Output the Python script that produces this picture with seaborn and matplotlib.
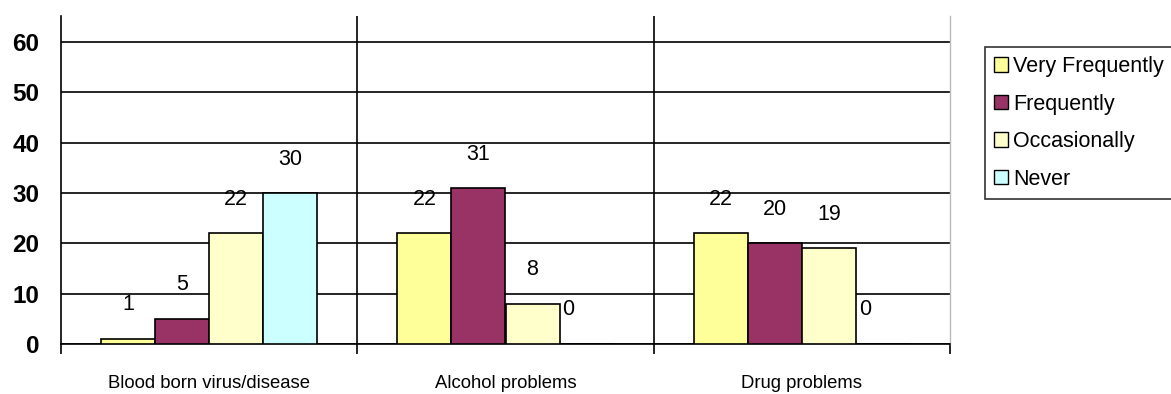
import matplotlib
matplotlib.use("Agg")
import matplotlib.pyplot as plt
import seaborn as sns
import pandas as pd
from matplotlib.ticker import FixedLocator

categories = ["Blood born virus/disease", "Alcohol problems", "Drug problems"]
series = ["Very Frequently", "Frequently", "Occasionally", "Never"]
very_frequently = [1, 22, 22]
frequently = [5, 31, 20]
occasionally = [22, 8, 19]
never = [30, 0, 0]
y_ticks = [0, 10, 20, 30, 40, 50, 60]

colors = ["#FFFF99", "#993366", "#FFFFCC", "#CCFFFF"]

rows = []
for name, vals in zip(series, [very_frequently, frequently, occasionally, never]):
    for cat, v in zip(categories, vals):
        rows.append({"category": cat, "series": name, "value": v})
df = pd.DataFrame(rows)

sns.set_theme(style="white")
plt.rcParams["font.family"] = ["Liberation Sans", "DejaVu Sans"]
plt.rcParams["text.color"] = "black"
plt.rcParams["xtick.color"] = "black"
plt.rcParams["ytick.color"] = "black"

fig = plt.figure(figsize=(11.71, 3.94), dpi=100)
W, H = 1171, 394
ax = fig.add_axes([61 / W, (H - 344) / H, (950 - 61) / W, (344 - 16) / H])

sns.barplot(data=df, x="category", y="value", hue="series", order=categories,
            hue_order=series, palette=colors, width=0.73, edgecolor="black",
            linewidth=1.2, saturation=1, ax=ax, legend=True, zorder=3)

ax.set_xlim(-0.5, 2.5)
ax.set_ylim(0, 65.2)
ax.set_yticks(y_ticks)
ax.set_yticklabels([str(t) for t in y_ticks], fontsize=17.5, fontweight="bold",
                   color="black")
ax.yaxis.grid(True, color="black", linewidth=1.2, zorder=0)
ax.set_axisbelow(True)
ax.tick_params(axis="y", direction="out", length=6.5, width=1.2, color="black", pad=9)

# category separators
for xs in [0.5, 1.5]:
    ax.axvline(xs, color="black", linewidth=1.2, zorder=1)

ax.xaxis.set_minor_locator(FixedLocator([-0.5, 0.5, 1.5, 2.5]))
ax.tick_params(axis="x", which="minor", direction="out", length=7, width=1.2,
               color="black", bottom=True)
ax.tick_params(axis="x", which="major", length=0, pad=22)
ax.set_xticks(range(len(categories)))
ax.set_xticklabels(categories, fontsize=13.3, color="black")
ax.set_xlabel("")
ax.set_ylabel("")

ax.spines["top"].set_visible(False)
ax.spines["right"].set_color("#BBBBBB")
ax.spines["right"].set_linewidth(1.0)
for side in ["left", "bottom"]:
    ax.spines[side].set_color("black")
    ax.spines[side].set_linewidth(1.2)

# value labels above each bar
for cont in ax.containers:
    for rect in cont:
        h = rect.get_height()
        if h == 0:
            x = rect.get_x() + 0.03
        else:
            x = rect.get_x() + rect.get_width() / 2
        ax.annotate(f"{h:.0f}", (x, h), xytext=(0, 24.5), textcoords="offset points",
                    ha="center", va="center", fontsize=15.5, color="black")

handles, labels = ax.get_legend_handles_labels()
ax.legend_.remove()
leg = fig.legend(handles, labels, loc="upper left",
                 bbox_to_anchor=(985 / W, 1 - 47 / H), bbox_transform=fig.transFigure,
                 fontsize=15.5, frameon=True, fancybox=False, handlelength=0.65,
                 handleheight=0.65, handletextpad=0.25, labelspacing=0.77,
                 borderpad=0.42, borderaxespad=0, labelcolor="black")
leg.get_frame().set_edgecolor("black")
leg.get_frame().set_linewidth(1.2)
for p in leg.get_patches():
    p.set_edgecolor("black")
    p.set_linewidth(1.0)

fig.savefig("out.png", dpi=100)
